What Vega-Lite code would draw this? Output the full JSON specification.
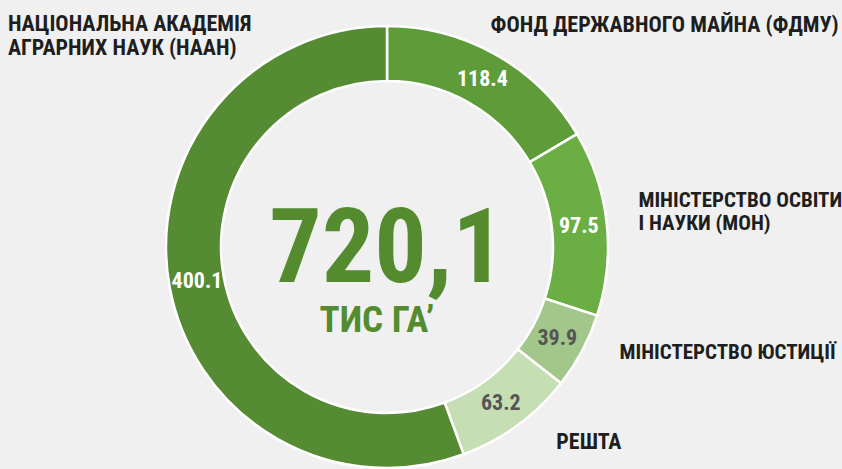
{
  "$schema": "https://vega.github.io/schema/vega-lite/v6.json",
  "width": 774,
  "height": 444,
  "autosize": {"type": "none"},
  "padding": {"left": 0, "right": 68, "top": 25, "bottom": 0},
  "background": "#f0f0f0",
  "config": {"view": {"stroke": null}, "text": {"font": "Roboto Condensed, DejaVu Sans Condensed, sans-serif", "fontWeight": "bold"}},
  "data": {"values": [
    {"idx": 1, "name": "ФДМУ", "value": 118.4, "label": "ФОНД ДЕРЖАВНОГО МАЙНА (ФДМУ)"},
    {"idx": 2, "name": "МОН", "value": 97.5, "label": "МІНІСТЕРСТВО ОСВІТИ|І НАУКИ (МОН)"},
    {"idx": 3, "name": "Юстиції", "value": 39.9, "label": "МІНІСТЕРСТВО ЮСТИЦІЇ"},
    {"idx": 4, "name": "Решта", "value": 63.2, "label": "РЕШТА"},
    {"idx": 5, "name": "НААН", "value": 400.1, "label": "НАЦІОНАЛЬНА АКАДЕМІЯ|АГРАРНИХ НАУК (НААН)"}
  ]},
  "layer": [
    {
      "mark": {"type": "arc", "innerRadius": 166, "outerRadius": 221, "stroke": "#ffffff", "strokeWidth": 2.5},
      "encoding": {
        "theta": {"field": "value", "type": "quantitative", "stack": true},
        "order": {"field": "idx", "type": "quantitative"},
        "color": {"field": "name", "type": "nominal", "legend": null,
          "scale": {"domain": ["ФДМУ", "МОН", "Юстиції", "Решта", "НААН"], "range": ["#5e9b39", "#6aae44", "#a3c68b", "#c6deb4", "#558b32"]}}
      }
    },
    {
      "mark": {"type": "text", "radius": 193, "fontSize": 22, "align": "center", "baseline": "middle"},
      "encoding": {
        "theta": {"field": "value", "type": "quantitative", "stack": true},
        "order": {"field": "idx", "type": "quantitative"},
        "text": {"field": "value", "type": "quantitative", "format": ".1f"},
        "color": {"condition": {"test": "datum.idx == 3 || datum.idx == 4", "value": "#555555"}, "value": "#ffffff"}
      }
    },
    {
      "mark": {"type": "text", "radius": 250, "fontSize": 22, "align": "center", "baseline": "middle", "dx": 154, "dy": -5, "color": "#1e1e1e", "lineBreak": "|"},
      "encoding": {
        "theta": {"field": "value", "type": "quantitative", "stack": true},
        "order": {"field": "idx", "type": "quantitative"},
        "text": {"condition": {"test": "datum.idx == 1", "field": "label", "type": "nominal"}, "value": ""}
      }
    },
    {
      "mark": {"type": "text", "radius": 250, "fontSize": 21, "lineHeight": 23, "align": "left", "baseline": "middle", "dx": 3, "dy": -18, "color": "#1e1e1e", "lineBreak": "|"},
      "encoding": {
        "theta": {"field": "value", "type": "quantitative", "stack": true},
        "order": {"field": "idx", "type": "quantitative"},
        "text": {"condition": {"test": "datum.idx == 2", "field": "label", "type": "nominal"}, "value": ""}
      }
    },
    {
      "mark": {"type": "text", "radius": 250, "fontSize": 21, "align": "left", "baseline": "middle", "dx": 12, "dy": -12, "color": "#1e1e1e", "lineBreak": "|"},
      "encoding": {
        "theta": {"field": "value", "type": "quantitative", "stack": true},
        "order": {"field": "idx", "type": "quantitative"},
        "text": {"condition": {"test": "datum.idx == 3", "field": "label", "type": "nominal"}, "value": ""}
      }
    },
    {
      "mark": {"type": "text", "radius": 250, "fontSize": 22, "align": "left", "baseline": "middle", "dx": 22, "dy": -7, "color": "#1e1e1e", "lineBreak": "|"},
      "encoding": {
        "theta": {"field": "value", "type": "quantitative", "stack": true},
        "order": {"field": "idx", "type": "quantitative"},
        "text": {"condition": {"test": "datum.idx == 4", "field": "label", "type": "nominal"}, "value": ""}
      }
    },
    {
      "mark": {"type": "text", "radius": 250, "fontSize": 22, "lineHeight": 24, "align": "left", "baseline": "middle", "dx": -133, "dy": -267, "color": "#1e1e1e", "lineBreak": "|"},
      "encoding": {
        "theta": {"field": "value", "type": "quantitative", "stack": true},
        "order": {"field": "idx", "type": "quantitative"},
        "text": {"condition": {"test": "datum.idx == 5", "field": "label", "type": "nominal"}, "value": ""}
      }
    },
    {
      "data": {"values": [{"t": "720,1"}]},
      "mark": {"type": "text", "fontSize": 104, "align": "center", "baseline": "alphabetic", "dx": 0, "dy": 35, "color": "#548b2f"},
      "encoding": {"text": {"field": "t", "type": "nominal"}}
    },
    {
      "data": {"values": [{"t": "ТИС ГА’"}]},
      "mark": {"type": "text", "fontSize": 37, "align": "center", "baseline": "alphabetic", "dx": -10, "dy": 85, "color": "#548b2f"},
      "encoding": {"text": {"field": "t", "type": "nominal"}}
    }
  ]
}
